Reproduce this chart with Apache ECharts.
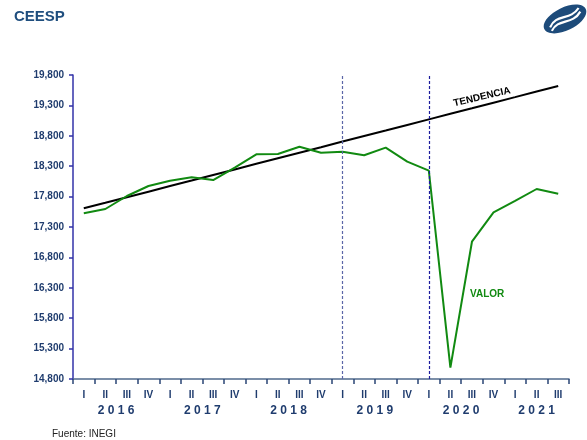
<!DOCTYPE html>
<html>
<head>
<meta charset="utf-8">
<script src="https://cdn.jsdelivr.net/npm/echarts@6/dist/echarts.min.js"></script>
<style>
html, body { margin: 0; padding: 0; background: #fff; }
#container { width: 587px; height: 440px; }
</style>
</head>
<body>
<div id="container"></div>
<script>
// quarters 2016-I .. 2021-III
const categories = [
    '2016-I', '2016-II', '2016-III', '2016-IV',
    '2017-I', '2017-II', '2017-III', '2017-IV',
    '2018-I', '2018-II', '2018-III', '2018-IV',
    '2019-I', '2019-II', '2019-III', '2019-IV',
    '2020-I', '2020-II', '2020-III', '2020-IV',
    '2021-I', '2021-II', '2021-III'
];
const valor = [
    17525, 17596, 17810, 17974,
    18062, 18117, 18072, 18275,
    18496, 18500, 18621, 18522,
    18538, 18479, 18605, 18374,
    18226, 14986, 17058, 17542,
    17728, 17925, 17848
];
const tendencia = [
    17607, 17698, 17790, 17881,
    17973, 18064, 18156, 18247,
    18339, 18430, 18522, 18613,
    18705, 18796, 18887, 18979,
    19070, 19162, 19253, 19345,
    19436, 19528, 19619
];
const years = ['2016', '2017', '2018', '2019', '2020', '2021'];
const yearLabelAt = ['2016-II', '2017-II', '2018-II', '2019-II', '2020-II', '2021-II'];
const breakLines = ['2019-I', '2020-I'];

const navy = '#1f3c6e';
const font = 'Liberation Sans';

let dom = document.getElementById('container');
let myChart = echarts.init(dom);

let option = {
    backgroundColor: '#fff',
    animation: false,
    grid: { left: 73, right: 18, top: 75, bottom: 61 },
    xAxis: [
        {
            type: 'category',
            data: categories,
            boundaryGap: true,
            axisLine: { lineStyle: { color: '#50698c', width: 1.5 } },
            axisTick: { show: true, interval: 0, length: 5, lineStyle: { color: '#2a4676', width: 1.5 } },
            axisLabel: {
                interval: 0,
                margin: 11,
                color: navy,
                fontFamily: font,
                fontWeight: 'bold',
                fontSize: 10,
                formatter: v => v.split('-')[1]
            },
            splitLine: { show: false }
        },
        {
            type: 'category',
            data: categories,
            position: 'bottom',
            gridIndex: 0,
            axisLine: { show: false },
            axisTick: { show: false },
            axisLabel: {
                interval: 0,
                margin: 26,
                formatter: function (v) {
                    let i = yearLabelAt.indexOf(v);
                    if (i < 0) return '';
                    let t = years[i].split('').join(' ');
                    return i === years.length - 1 ? '{c|' + t + '}' : '{s|' + t + '}';
                },
                rich: {
                    s: { color: navy, fontFamily: font, fontWeight: 'bold', fontSize: 12, padding: [0, 0, 0, 21.6] },
                    c: { color: navy, fontFamily: font, fontWeight: 'bold', fontSize: 12 }
                }
            },
            splitLine: { show: false }
        }
    ],
    yAxis: {
        type: 'value',
        min: 14800,
        max: 19800,
        interval: 500,
        axisLine: { show: true, lineStyle: { color: '#3232a8', width: 1.5 } },
        axisTick: { show: true, length: 4, lineStyle: { color: '#3232a8', width: 1.5 } },
        axisLabel: {
            margin: 9,
            color: navy,
            fontFamily: font,
            fontWeight: 'bold',
            fontSize: 10
        },
        splitLine: { show: false }
    },
    series: [
        {
            name: 'TENDENCIA',
            type: 'line',
            data: tendencia,
            symbol: 'none',
            lineStyle: { color: '#000', width: 2 },
            z: 3
        },
        {
            name: 'VALOR',
            type: 'line',
            data: valor,
            symbol: 'none',
            lineStyle: { color: '#118a11', width: 2 },
            z: 4,
            markLine: {
                silent: true,
                symbol: ['none', 'none'],
                label: { show: false },
                data: [
                    { xAxis: breakLines[0], lineStyle: { color: '#5c66a8', type: [3, 2], width: 1.2 } },
                    { xAxis: breakLines[1], lineStyle: { color: '#1c1c9c', type: [3, 2], width: 1.2 } }
                ]
            }
        }
    ],
    graphic: [
        {
            type: 'text', left: 14, top: 9,
            style: { text: 'CEESP', fill: '#1f4e7e', font: 'bold 15px "Liberation Sans"' }
        },
        {
            type: 'group', x: 565, y: 19, rotation: 0.45,
            children: [
                { type: 'ellipse', shape: { cx: 0, cy: 0, rx: 23, ry: 11.5 }, style: { fill: '#1d4b7a' } },
                { type: 'bezierCurve', shape: { x1: -17, y1: 1, cpx1: -6, cpy1: -9, cpx2: 4, cpy2: 4, x2: 17, y2: -4 },
                  style: { stroke: '#fff', lineWidth: 2.2, fill: null } },
                { type: 'bezierCurve', shape: { x1: -17, y1: 5, cpx1: -6, cpy1: -4, cpx2: 4, cpy2: 9, x2: 17, y2: 0 },
                  style: { stroke: '#fff', lineWidth: 2.2, fill: null } }
            ]
        },
        {
            type: 'text', x: 482, y: 97, rotation: 0.23, originX: 0, originY: 0,
            style: { text: 'TENDENCIA', fill: '#000', font: 'bold 10px "Liberation Sans"', align: 'center', verticalAlign: 'middle' }
        },
        {
            type: 'text', x: 470, y: 289,
            style: { text: 'VALOR', fill: '#118a11', font: 'bold 10px "Liberation Sans"' }
        },
        {
            type: 'text', left: 52, top: 429,
            style: { text: 'Fuente: INEGI', fill: '#222', font: '10px "Liberation Sans"' }
        }
    ]
};
myChart.setOption(option);
</script>
</body>
</html>
